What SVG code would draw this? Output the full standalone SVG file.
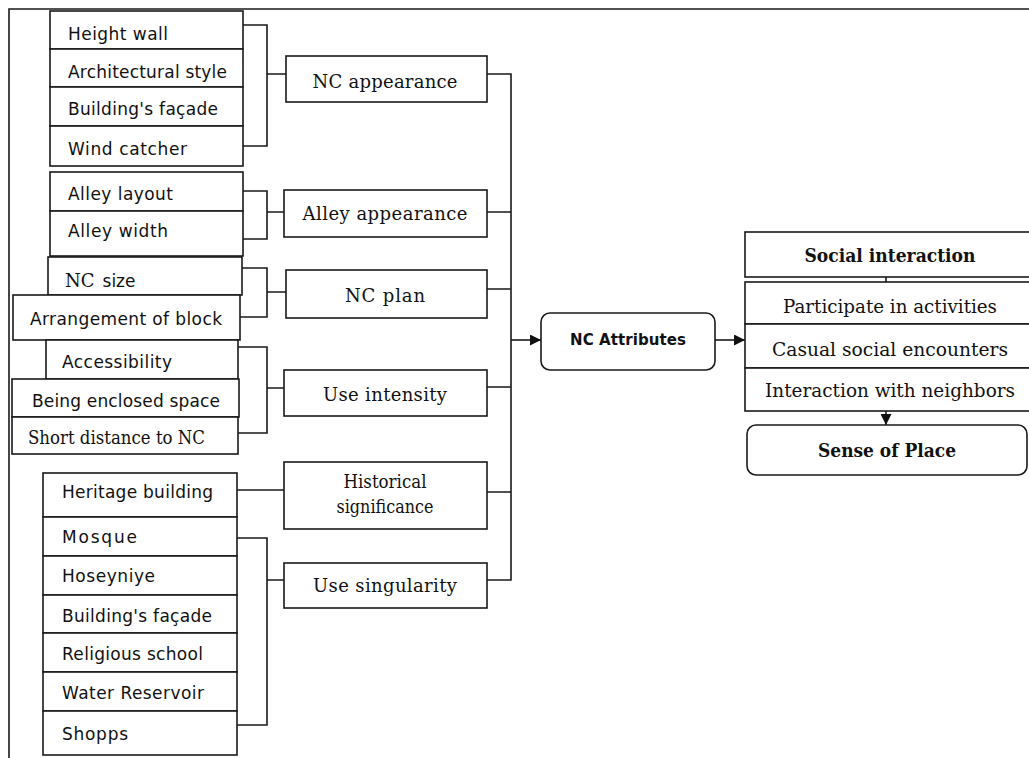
<svg xmlns="http://www.w3.org/2000/svg" width="1029" height="758" viewBox="0 0 1029 758">
<defs>
<style>
.box{fill:#fff;stroke:#1a1a1a;stroke-width:1.6}
.ln{fill:none;stroke:#1a1a1a;stroke-width:1.6}
.s{font-family:"DejaVu Sans","Liberation Sans",sans-serif;font-size:17px;fill:#111}
.r{font-family:"DejaVu Serif","Liberation Serif",serif;font-size:18px;fill:#111}
.rs{font-family:"DejaVu Serif","Liberation Serif",serif;font-size:18px;fill:#111}
.rb{font-family:"DejaVu Serif","Liberation Serif",serif;font-size:18px;font-weight:bold;fill:#111}
.sb{font-family:"DejaVu Sans","Liberation Sans",sans-serif;font-size:15px;font-weight:bold;fill:#111}
.m{text-anchor:middle}
</style>
<marker id="ah" viewBox="0 0 10 10" refX="10" refY="5" markerWidth="11" markerHeight="11" markerUnits="userSpaceOnUse" orient="auto">
<path d="M0,0 L10,5 L0,10 z" fill="#111"/>
</marker>
</defs>
<rect width="1029" height="758" fill="#fff"/>
<g id="frame">
<path class="ln" d="M9,758 V9 H1029" stroke-width="2"/>
</g>

<g id="connectors">
<path class="ln" d="M243,25 H267 V146 H243 M267,74 H286"/>
<path class="ln" d="M243,191 H267 V239 H243 M267,212 H284"/>
<path class="ln" d="M242,268 H267 V317 H240 M267,292 H286"/>
<path class="ln" d="M238,347 H267 V433 H238 M267,388 H284"/>
<path class="ln" d="M237,490 H284"/>
<path class="ln" d="M237,538 H267 V725 H237 M267,580 H284"/>
<path class="ln" d="M487,74 H511 V580 H487 M487,212 H511 M487,289 H511 M487,387 H511 M487,492 H511"/>
<path class="ln" d="M511,340 H541" marker-end="url(#ah)"/>
<path class="ln" d="M715,340 H745" marker-end="url(#ah)"/>
<path class="ln" d="M886,277 V282"/>
<path class="ln" d="M886,411 V425" marker-end="url(#ah)"/>
</g>

<g id="appearance-items">
<rect class="box" x="50" y="11" width="193" height="38"/>
<rect class="box" x="50" y="49" width="193" height="38"/>
<rect class="box" x="50" y="87" width="193" height="39"/>
<rect class="box" x="50" y="126" width="193" height="40"/>
<text class="s" x="68" y="40" textLength="100">Height wall</text>
<text class="s" x="68" y="78" textLength="159">Architectural style</text>
<text class="s" x="68" y="115" textLength="150">Building's façade</text>
<text class="s" x="68" y="155" textLength="119">Wind catcher</text>
</g>

<g id="alley-items">
<rect class="box" x="50" y="172" width="193" height="39"/>
<rect class="box" x="50" y="211" width="193" height="45"/>
<text class="s" x="68" y="200" textLength="105">Alley layout</text>
<text class="s" x="68" y="237" textLength="100">Alley width</text>
</g>

<g id="plan-items">
<rect class="box" x="48" y="257" width="194" height="38"/>
<rect class="box" x="13" y="295" width="227" height="45"/>
<text x="65" y="287"><tspan class="rs">NC</tspan><tspan class="s" dx="8">size</tspan></text>
<text class="s" x="30" y="325" textLength="192">Arrangement of block</text>
</g>

<g id="intensity-items">
<rect class="box" x="46" y="340" width="192" height="39"/>
<rect class="box" x="12" y="379" width="227" height="38"/>
<rect class="box" x="12" y="417" width="226" height="37"/>
<text class="s" x="62" y="368" textLength="110">Accessibility</text>
<text class="s" x="32" y="407" textLength="188">Being enclosed space</text>
<text class="rs" x="28" y="444" textLength="177" lengthAdjust="spacingAndGlyphs">Short distance to NC</text>
</g>

<g id="singularity-items">
<rect class="box" x="43" y="473" width="194" height="44"/>
<rect class="box" x="43" y="517" width="194" height="39"/>
<rect class="box" x="43" y="556" width="194" height="39"/>
<rect class="box" x="43" y="595" width="194" height="38"/>
<rect class="box" x="43" y="633" width="194" height="39"/>
<rect class="box" x="43" y="672" width="194" height="39"/>
<rect class="box" x="43" y="711" width="194" height="44"/>
<text class="s" x="62" y="498" textLength="151">Heritage building</text>
<text class="s" x="62" y="543" textLength="75">Mosque</text>
<text class="s" x="62" y="582" textLength="93">Hoseyniye</text>
<text class="s" x="62" y="622" textLength="150">Building's façade</text>
<text class="s" x="62" y="660" textLength="141">Religious school</text>
<text class="s" x="62" y="699" textLength="142">Water Reservoir</text>
<text class="s" x="62" y="740" textLength="66">Shopps</text>
</g>

<g id="nc-appearance">
<rect class="box" x="286" y="56" width="201" height="46"/>
<text class="r m" x="385" y="88" textLength="145">NC appearance</text>
</g>
<g id="alley-appearance">
<rect class="box" x="284" y="190" width="203" height="47"/>
<text class="r m" x="385" y="220" textLength="165">Alley appearance</text>
</g>
<g id="nc-plan">
<rect class="box" x="286" y="270" width="201" height="48"/>
<text class="r m" x="385" y="302" textLength="80">NC plan</text>
</g>
<g id="use-intensity">
<rect class="box" x="284" y="370" width="203" height="46"/>
<text class="r m" x="385" y="401" textLength="124">Use intensity</text>
</g>
<g id="historical-significance">
<rect class="box" x="284" y="462" width="203" height="67"/>
<text class="r m" x="385" y="488" textLength="83" lengthAdjust="spacingAndGlyphs">Historical</text>
<text class="r m" x="385" y="513" textLength="97" lengthAdjust="spacingAndGlyphs">significance</text>
</g>
<g id="use-singularity">
<rect class="box" x="284" y="563" width="203" height="45"/>
<text class="r m" x="385" y="592" textLength="144">Use singularity</text>
</g>

<g id="nc-attributes">
<rect class="box" x="541" y="313" width="174" height="57" rx="9"/>
<text class="sb m" x="628" y="345" textLength="116">NC Attributes</text>
</g>

<g id="social-interaction">
<rect class="box" x="745" y="232" width="286" height="45"/>
<text class="rb m" x="890" y="262" textLength="171" lengthAdjust="spacingAndGlyphs">Social interaction</text>
</g>
<g id="social-items">
<rect class="box" x="745" y="282" width="286" height="42"/>
<rect class="box" x="745" y="324" width="286" height="44"/>
<rect class="box" x="745" y="368" width="286" height="43"/>
<text class="rs m" x="890" y="313" textLength="214" lengthAdjust="spacingAndGlyphs">Participate in activities</text>
<text class="rs m" x="890" y="356" textLength="236" lengthAdjust="spacingAndGlyphs">Casual social encounters</text>
<text class="rs m" x="890" y="397" textLength="250" lengthAdjust="spacingAndGlyphs">Interaction with neighbors</text>
</g>
<g id="sense-of-place">
<rect class="box" x="747" y="425" width="280" height="50" rx="9"/>
<text class="rb m" x="887" y="457" textLength="138" lengthAdjust="spacingAndGlyphs">Sense of Place</text>
</g>
</svg>
